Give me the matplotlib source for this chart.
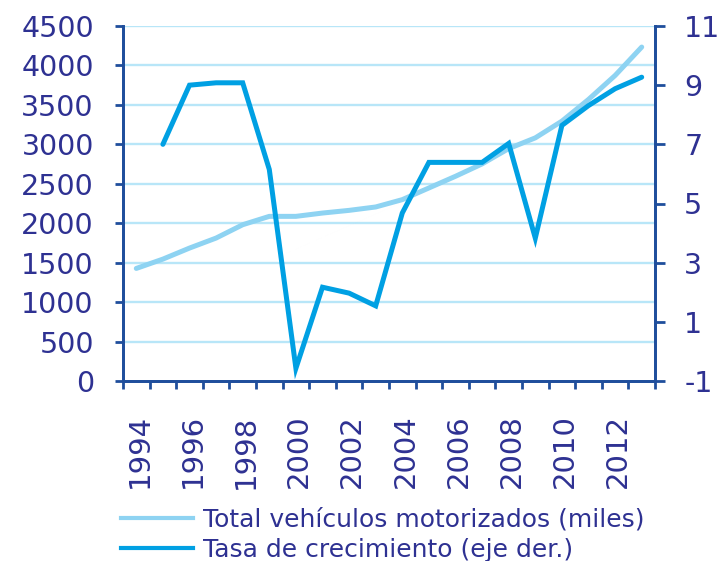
import matplotlib
matplotlib.use("Agg")
import matplotlib.pyplot as plt
from matplotlib.lines import Line2D
import numpy as np

years = list(range(1994, 2014))
total_vehiculos = [1427, 1545, 1685, 1812, 1981, 2087, 2087, 2129, 2163, 2206,
                   2299, 2447, 2595, 2752, 2946, 3082, 3294, 3569, 3873, 4233]
tasa_years = list(range(1995, 2014))
tasa_crecimiento = [7.0, 9.0, 9.08, 9.08, 6.15, -0.57, 2.17, 1.97, 1.54, 4.68,
                    6.39, 6.39, 6.39, 7.03, 3.83, 7.64, 8.31, 8.88, 9.27]
label_total = "Total vehículos motorizados (miles)"
label_tasa = "Tasa de crecimiento (eje der.)"

text_c = "#2E3192"
spine_c = "#1F4E9C"
grid_c = "#B8E6F8"
light_c = "#8ED3F2"
dark_c = "#00A0E3"

plt.rcParams['font.family'] = ['DejaVu Sans']
plt.rcParams['axes.unicode_minus'] = False

fig = plt.figure(figsize=(7.23, 5.61), dpi=100)
ax = fig.add_axes([123/723, 1-381/561, (655-123)/723, (381-26)/561])
ax2 = ax.twinx()

xi = np.arange(len(years))
x_tasa = np.array([years.index(y) for y in tasa_years])

ax.set_xlim(-0.5, len(years)-0.5)
ax.set_ylim(0, 4500)
ax.set_yticks(np.arange(0, 4501, 500))
for v in np.arange(500, 4501, 500):
    ax.axhline(v, color=grid_c, lw=1.7, zorder=0)

ax.plot(xi, total_vehiculos, color=light_c, lw=3.6, solid_capstyle='round', zorder=3)
ax2.plot(x_tasa, tasa_crecimiento, color=dark_c, lw=3.6, solid_capstyle='round',
         solid_joinstyle='miter', zorder=3)
ax2.set_ylim(-1, 11)
ax2.set_yticks(np.arange(-1, 12, 2))

# x ticks at category boundaries, labels at every other category
ax.set_xticks(np.arange(-0.5, len(years), 1.0))
ax.set_xticklabels([])
ax.set_xticks(xi[::2] + 0.12, minor=True)
ax.set_xticklabels([str(y) for y in years[::2]], minor=True, rotation=90,
                   fontsize=21, color=text_c)
ax.tick_params(axis='x', which='minor', length=0, pad=24)
ax.tick_params(axis='x', which='major', length=6, width=2, color=spine_c, direction='out')

ax.tick_params(axis='y', length=6, width=2, color=spine_c, labelsize=20.5,
               labelcolor=text_c, pad=15)
ax2.tick_params(axis='y', length=7, width=2, color=spine_c, labelsize=20.5,
                labelcolor=text_c, pad=14)

for a in (ax, ax2):
    a.spines['top'].set_visible(False)
    for s in ('left', 'right', 'bottom'):
        a.spines[s].set_color(spine_c)
        a.spines[s].set_linewidth(2)

handles = [Line2D([], [], color=light_c, lw=3),
           Line2D([], [], color=dark_c, lw=3)]
fig.legend(handles, [label_total, label_tasa], loc='upper left',
           bbox_to_anchor=(108/723, 1-495/561), frameon=False, fontsize=18,
           handlelength=2.9, handletextpad=0.4, labelspacing=0.25,
           labelcolor=text_c, borderpad=0)

fig.savefig("out.png", dpi=100)
